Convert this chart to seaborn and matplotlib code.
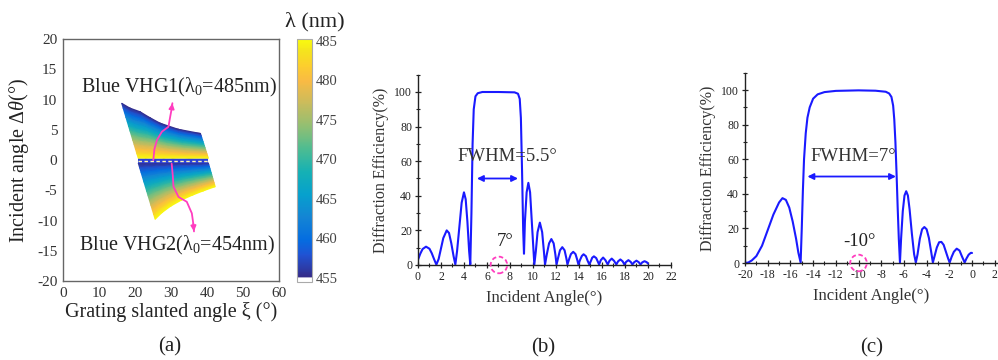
import numpy as np
import pandas as pd
import matplotlib
matplotlib.use("Agg")
import matplotlib.pyplot as plt
import seaborn as sns
from matplotlib.colors import LinearSegmentedColormap, Normalize
from matplotlib.cm import ScalarMappable
from matplotlib.patches import Ellipse

# ---------------- data ----------------
# panel (b): diffraction efficiency vs incident angle (blue VHG1)
b_angle = [0, 0.2, 0.4, 0.7, 1.0, 1.2, 1.4, 1.6,
           1.8, 2.0, 2.2, 2.5, 2.7, 2.9, 3.1, 3.25,
           3.4, 3.6, 3.8, 4.0, 4.15, 4.3, 4.45, 4.55,
           4.65, 4.75, 4.85, 5.0, 5.2, 5.6, 7.0, 8.4, 8.7, 8.85, 8.95, 9.05, 9.15, 9.22,
           9.3, 9.45, 9.6, 9.75, 9.9, 10.05, 10.12,
           10.25, 10.4, 10.6, 10.8, 10.95, 11.05,
           11.2, 11.4, 11.6, 11.8, 11.95, 12.05,
           12.2, 12.35, 12.55, 12.75, 12.9, 13.0,
           13.15, 13.3, 13.5, 13.7, 13.85, 13.95,
           14.1, 14.25, 14.4, 14.6, 14.75, 14.9,
           15.05, 15.15, 15.3, 15.5, 15.65, 15.75,
           15.9, 16.1, 16.3, 16.5,
           16.65, 16.85, 17.05, 17.25,
           17.4, 17.6, 17.8, 17.95,
           18.1, 18.3, 18.5, 18.65,
           18.8, 19.0, 19.2, 19.35,
           19.5, 19.7, 19.9, 20.0]
b_eff = [3.0, 6.5, 9.2, 10.6, 9.4, 6.8, 3.4, 0.2,
         3.5, 9.5, 15.5, 20.0, 18.5, 12.5, 5.0, 0.3,
         8.0, 22.0, 36.0, 42.0, 38.0, 25.0, 8.0, 0.3,
         30.0, 70.0, 90.0, 97.5, 99.3, 100.0, 100.0, 99.8, 99.0, 96.0, 85.0, 55.0, 20.0, 6.5,
         25.0, 42.0, 47.5, 42.0, 25.0, 8.0, 0.3,
         8.0, 19.0, 24.5, 19.0, 8.0, 0.3,
         6.0, 12.5, 15.0, 12.5, 6.0, 0.3,
         4.5, 8.5, 10.3, 8.5, 4.0, 0.3,
         3.5, 6.3, 7.6, 6.3, 3.0, 0.3,
         3.0, 5.2, 6.2, 5.1, 2.5, 0.3,
         2.5, 4.2, 5.0, 4.0, 1.8, 0.3,
         2.8, 4.3, 2.8, 0.3,
         2.4, 3.7, 2.4, 0.3,
         2.1, 3.2, 2.1, 0.3,
         1.8, 2.8, 1.8, 0.3,
         1.6, 2.5, 1.6, 0.3,
         1.5, 2.2, 1.6, 0.8]

# panel (c): diffraction efficiency vs incident angle (blue VHG2)
c_angle = [-20.0, -19.7, -19.4, -19.0, -18.5, -18.0, -17.5, -17.0, -16.7, -16.4, -16.1, -15.8, -15.5, -15.3, -15.1,
           -15.0, -14.9, -14.8, -14.65, -14.5, -14.3, -14.0, -13.6, -13.0, -12.0, -10.0, -8.5, -7.6, -7.3, -7.1,
           -6.95, -6.85, -6.75, -6.65, -6.55, -6.45, -6.35,
           -6.25, -6.1, -5.95, -5.8, -5.65, -5.5, -5.3, -5.1, -4.95,
           -4.8, -4.6, -4.4, -4.2, -4.0, -3.8, -3.6, -3.45,
           -3.3, -3.1, -2.9, -2.7, -2.5, -2.3, -2.1, -1.97,
           -1.8, -1.6, -1.35, -1.1, -0.9, -0.65,
           -0.5, -0.3, -0.1, 0.0]
c_eff = [0.0, 0.3, 1.5, 4.0, 10.0, 19.0, 28.0, 35.0, 37.5, 36.5, 32.0, 24.0, 14.0, 6.0, 0.3,
         20.0, 42.0, 60.0, 75.0, 84.0, 90.0, 95.0, 97.5, 98.8, 99.5, 99.8, 99.6, 99.0, 98.0, 96.0,
         91.0, 83.0, 70.0, 52.0, 32.0, 14.0, 0.3,
         14.0, 30.0, 39.0, 41.5, 39.0, 31.0, 17.0, 5.0, 0.3,
         5.0, 14.0, 19.5, 20.8, 19.5, 14.5, 6.5, 0.3,
         4.0, 9.0, 12.0, 12.2, 10.5, 6.5, 2.5, 0.3,
         3.5, 6.5, 8.3, 7.2, 4.0, 0.3,
         2.5, 4.8, 5.9, 5.8]

# panel (a): wavelength map regions (grating slanted angle xi, incident angle dtheta)
up_top_x = [16.3, 18.6, 21.4, 24.2, 27.0, 32.0, 38.2]
up_top_y = [9.4, 8.6, 8.0, 7.0, 6.1, 5.1, 4.4]
up_bot_x = [20.9, 23.0, 25.5, 28.0, 30.5, 35.0, 40.4]
up_bot_y = [0.3, 0.3, 0.3, 0.3, 0.3, 0.3, 0.3]
lo_top_x = [20.9, 23.9, 26.9, 30.0, 33.4, 36.9, 40.4]
lo_top_y = [-0.5, -0.5, -0.5, -0.5, -0.5, -0.5, -0.5]
lo_bot_x = [25.6, 27.5, 30.0, 33.0, 36.0, 39.0, 42.3]
lo_bot_y = [-9.8, -8.7, -7.6, -6.6, -5.8, -5.1, -4.4]
# wavelength contour levels from the top edge (455 nm) to the bottom edge (485 nm) of each region
lam_levels = [455, 457.5, 460, 462.5, 465, 467.5, 470, 472.5, 475, 477.5, 480, 482.5, 485]
dash_x = [20.9, 40.4]
dash_y = [-0.1, -0.1]

arrow1_x = [25.1, 25.4, 26.1, 27.5, 29.3, 29.8, 30.2, 30.4]
arrow1_y = [0.0, 1.8, 3.3, 4.7, 5.5, 7.2, 8.5, 9.4]
arrow2_x = [30.2, 30.5, 30.7, 32.1, 34.4, 35.8, 36.2, 36.4]
arrow2_y = [-0.6, -2.5, -4.4, -6.1, -6.9, -8.8, -10.5, -11.8]

cb_ticks = [455, 460, 465, 470, 475, 480, 485]

# parula colormap anchors
parula = [(0.208, 0.166, 0.529), (0.125, 0.324, 0.830), (0.017, 0.427, 0.879),
          (0.079, 0.520, 0.831), (0.024, 0.629, 0.804), (0.084, 0.693, 0.706),
          (0.302, 0.738, 0.571), (0.571, 0.749, 0.449), (0.786, 0.736, 0.363),
          (0.974, 0.731, 0.267), (0.988, 0.807, 0.179), (0.959, 0.895, 0.113),
          (0.976, 0.983, 0.054)]
parula_pos = [0, 6, 10, 16, 22, 28, 34, 40, 46, 52, 56, 60, 63]

# ---------------- style ----------------
sns.set_theme(style="ticks")
plt.rcParams["font.family"] = ["Liberation Serif", "DejaVu Serif"]
plt.rcParams["mathtext.fontset"] = "custom"
plt.rcParams["mathtext.rm"] = "Liberation Serif"
plt.rcParams["mathtext.it"] = "Liberation Serif:italic"
plt.rcParams["axes.unicode_minus"] = False

cmap = LinearSegmentedColormap.from_list("parula", [(p / 63, c) for p, c in zip(parula_pos, parula)])
cb_lo, cb_hi = 454.5, 485.2
wfrac = (455 - cb_lo) / (cb_hi - cb_lo)
cb_cmap = LinearSegmentedColormap.from_list(
    "parula_w", [(0, "white"), (wfrac - 0.001, "white")] +
    [(wfrac + (1 - wfrac) * p / 63, c) for p, c in zip(parula_pos, parula)])

fig = plt.figure(figsize=(9.98, 3.6), dpi=100)
axa = fig.add_axes([0.0631, 0.2194, 0.2164, 0.672])
cax = fig.add_axes([0.2976, 0.2167, 0.015, 0.675])
axb = fig.add_axes([0.4188, 0.2639, 0.2535, 0.5286])
axc = fig.add_axes([0.7465, 0.2694, 0.2525, 0.5286])

# ---------------- panel (a) ----------------
norm = Normalize(vmin=455, vmax=485)
lam = np.array(lam_levels, dtype=float)
frac = ((lam - lam[0]) / (lam[-1] - lam[0]))[:, None]
for tx, ty, bx, by in [(up_top_x, up_top_y, up_bot_x, up_bot_y),
                       (lo_top_x, lo_top_y, lo_bot_x, lo_bot_y)]:
    tx, ty, bx, by = map(np.asarray, (tx, ty, bx, by))
    X = tx[None, :] + (bx - tx)[None, :] * frac
    Y = ty[None, :] + (by - ty)[None, :] * frac
    C = np.repeat(lam[:, None], len(tx), axis=1)
    axa.pcolormesh(X, Y, C, shading="gouraud", cmap=cmap, norm=norm)

axa.plot(dash_x, dash_y, color="#2a3fd8", lw=3.2, solid_capstyle="butt")
axa.plot(dash_x, dash_y, color="#fff7b0", lw=1.0, dashes=(2.5, 1.8))

pink = "#ff3dbf"
sns.lineplot(x=arrow1_x, y=arrow1_y, ax=axa, color=pink, lw=1.3, sort=False, estimator=None)
sns.lineplot(x=arrow2_x, y=arrow2_y, ax=axa, color=pink, lw=1.3, sort=False, estimator=None)
for ax_, ay_ in [(arrow1_x, arrow1_y), (arrow2_x, arrow2_y)]:
    axa.annotate("", xy=(ax_[-1], ay_[-1]), xytext=(ax_[-2], ay_[-2]),
                 arrowprops=dict(arrowstyle="-|>", color=pink, lw=1.2, mutation_scale=8,
                                 shrinkA=0, shrinkB=0))

axa.text(32.1, 12.0, "Blue VHG1(λ$_0$=485nm)", ha="center", va="center", fontsize=14.5, color="#222222")
axa.text(31.6, -14.1, "Blue VHG2(λ$_0$=454nm)", ha="center", va="center", fontsize=14.5, color="#222222")

axa.set_xlim(0, 60)
axa.set_ylim(-20, 20)
axa.set_xticks(range(0, 61, 10))
axa.set_yticks(range(-20, 21, 5))
axa.tick_params(length=0, labelsize=11, colors="#333333", pad=4)
for s in axa.spines.values():
    s.set_color("#666666")
    s.set_linewidth(1.0)
axa.set_xlabel("Grating slanted angle ξ (°)", fontsize=14.5, color="#222222", labelpad=2)
axa.set_ylabel(r"Incident angle Δ$\it{θ}$(°)", fontsize=14.5, color="#222222", labelpad=4)

sm = ScalarMappable(norm=Normalize(vmin=cb_lo, vmax=cb_hi), cmap=cb_cmap)
cb = fig.colorbar(sm, cax=cax, ticks=cb_ticks)
cb.outline.set_edgecolor("#aaaaaa")
cb.outline.set_linewidth(0.8)
cax.tick_params(length=0, labelsize=10.5, colors="#444444", pad=3)
fig.text(315 / 998, 1 - 22 / 360, "λ (nm)", ha="center", va="center", fontsize=16, color="#222222")

# ---------------- panels (b), (c) ----------------
blue = "#1a1aff"
sns.lineplot(x=b_angle, y=b_eff, ax=axb, color=blue, lw=1.5, sort=False, estimator=None)
sns.lineplot(x=c_angle, y=c_eff, ax=axc, color=blue, lw=1.5, sort=False, estimator=None)

axb.set_xlim(0, 22)
axb.set_xticks(range(0, 23, 2))
axb.set_xticks(range(1, 23, 2), minor=True)
axc.set_xlim(-20, 2.2)
axc.set_xticks(range(-20, 3, 2))
axc.set_xticks(range(-19, 3, 2), minor=True)

for ax in (axb, axc):
    ax.set_ylim(0, 110)
    ax.set_yticks(range(0, 101, 20))
    ax.set_yticks(range(10, 111, 20), minor=True)
    ax.spines["top"].set_visible(False)
    ax.spines["right"].set_visible(False)
    for s in ("left", "bottom"):
        ax.spines[s].set_color("#222222")
        ax.spines[s].set_linewidth(1.0)
    ax.tick_params(which="major", direction="inout", length=4.5, width=0.9, labelsize=8.5,
                   colors="#222222", pad=2)
    ax.tick_params(which="minor", direction="inout", length=3, width=0.8, colors="#222222")
    ax.set_xlabel("Incident Angle(°)", fontsize=12, color="#333333", labelpad=5)
    ax.set_ylabel("Diffraction Efficiency(%)", fontsize=11.5, color="#333333", labelpad=4)

axb.annotate("", xy=(5.13, 50), xytext=(8.7, 50),
             arrowprops=dict(arrowstyle="<|-|>", color=blue, lw=1.3, mutation_scale=9,
                             shrinkA=0, shrinkB=0))
axc.annotate("", xy=(-14.5, 50), xytext=(-6.7, 50),
             arrowprops=dict(arrowstyle="<|-|>", color=blue, lw=1.3, mutation_scale=9,
                             shrinkA=0, shrinkB=0))
axb.text(7.75, 62.7, "FWHM=5.5°", ha="center", va="center", fontsize=13.5, color="#333333")
axc.text(-10.47, 61.4, "FWHM=7°", ha="center", va="center", fontsize=13.5, color="#333333")
axb.text(7.57, 13.5, "7°", ha="center", va="center", fontsize=13.5, color="#222222")
axc.text(-9.9, 12.2, "-10°", ha="center", va="center", fontsize=13.5, color="#222222")

axb.add_patch(Ellipse((7.04, 0), 1.44, 9.6, fill=False, edgecolor=pink, lw=1.3,
                      linestyle=(0, (2.5, 1.5)), clip_on=False, zorder=5))
axc.add_patch(Ellipse((-10.0, 0), 1.46, 9.6, fill=False, edgecolor=pink, lw=1.3,
                      linestyle=(0, (2.5, 1.5)), clip_on=False, zorder=5))

# captions
fig.text(170 / 998, 1 - 347 / 360, "(a)", ha="center", va="center", fontsize=15, color="#222222")
fig.text(543 / 998, 1 - 348 / 360, "(b)", ha="center", va="center", fontsize=15, color="#222222")
fig.text(872 / 998, 1 - 348 / 360, "(c)", ha="center", va="center", fontsize=15, color="#222222")

fig.savefig("out.png", dpi=100)
